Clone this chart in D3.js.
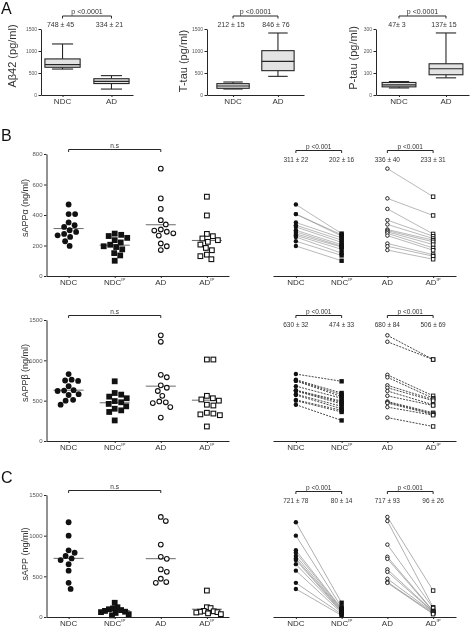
<!DOCTYPE html>
<html>
<head>
<meta charset="utf-8">
<script src="https://cdn.jsdelivr.net/npm/d3@7"></script>
<style>
  body { margin: 0; background: #fff; }
  svg { display: block; will-change: transform; }
  text { -webkit-font-smoothing: antialiased; }
</style>
</head>
<body>
<div id="fig"></div>
<script>
// ---- data ----
// panel A : box plots, [min, q1, median, q3, max]
const boxCats = ["NDC", "AD"];
const abeta42Box = [[590, 630, 690, 820, 1160], [135, 260, 310, 370, 440]];
const abeta42Text = ["748 ± 45", "334 ± 21"];
const ttauBox = [[136, 152, 205, 258, 295], [424, 553, 765, 1008, 1409]];
const ttauText = ["212 ± 15", "846 ± 76"];
const ptauBox = [[32, 37, 46, 57, 61], [78, 92, 119, 142, 282]];
const ptauText = ["47± 3", "137± 15"];
const ticks1500 = [0, 500, 1000, 1500];
const ticks800 = [0, 200, 400, 600, 800];
const ticks300 = [0, 100, 200, 300];

// panels B, C : paired samples (index i of NDC goes with index i of NDC^IP)
const scatterCats = ["NDC", "NDC^IP", "AD", "AD^IP"];

const sappaNDC = [469, 406, 406, 351, 333, 322, 300, 289, 276, 267, 256, 228, 197];
const sappaNDCip = [278, 270, 262, 250, 235, 220, 205, 195, 190, 175, 150, 135, 100];
const sappaAD = [704, 509, 440, 366, 338, 305, 298, 290, 280, 265, 213, 195, 170];
const sappaADip = [520, 397, 276, 261, 246, 235, 224, 206, 184, 169, 140, 130, 110];
const sappaMeans = [311, 202, 336, 233];
const sappaText = ["311 ± 22", "202 ± 16", "336 ± 40", "233 ± 31"];

const sappbNDC = [830, 760, 750, 745, 680, 630, 625, 620, 580, 570, 510, 500, 450];
const sappbNDCip = [740, 595, 575, 550, 530, 495, 480, 460, 430, 400, 380, 360, 255];
const sappbAD = [1310, 1230, 820, 790, 690, 660, 620, 560, 490, 480, 470, 420, 290];
const sappbADip = [1010, 1010, 560, 530, 515, 500, 450, 440, 350, 340, 330, 320, 180];
const sappbMeans = [630, 474, 680, 506];
const sappbText = ["630 ± 32", "474 ± 33", "680 ± 84", "506 ± 69"];

const sappNDC = [1165, 1000, 820, 790, 750, 720, 700, 650, 570, 420, 345];
const sappNDCip = [175, 120, 105, 95, 85, 75, 65, 60, 50, 35, 20];
const sappAD = [1230, 1180, 890, 740, 715, 585, 555, 470, 430, 420];
const sappADip = [325, 120, 110, 75, 70, 65, 60, 55, 45, 35];
const sappMeans = [721, 80, 717, 96];
const sappText = ["721 ± 78", "80 ± 14", "717 ± 93", "96 ± 26"];

// ---- drawing ----
const W = 474, H = 627;
const FONT = '"Liberation Sans", Arial, Helvetica, sans-serif';
const ink = "#262626";

const svg = d3.select("#fig").append("svg")
    .attr("width", W).attr("height", H)
    .attr("font-family", FONT);

// panel letters
[["A", 1, 14], ["B", 1, 141], ["C", 1, 483]].forEach(([t, x, y]) => {
    svg.append("text").attr("x", x).attr("y", y)
        .attr("font-size", 16).attr("fill", "#111").text(t);
});

function yAxis(g, y, x, ticks, fs) {
    const ax = g.append("g")
        .attr("transform", `translate(${x},0)`)
        .call(d3.axisLeft(y).tickValues(ticks).tickFormat(d3.format("d"))
            .tickSize(2.5).tickSizeOuter(0).tickPadding(1.5))
        .attr("font-family", FONT).attr("font-size", fs);
    ax.select(".domain").attr("stroke", ink).attr("stroke-width", 1);
    ax.selectAll(".tick line").attr("stroke", ink);
    ax.selectAll(".tick text").attr("fill", "#555");
}

function xAxis(g, x, y0, fs, lblDy) {
    const ax = g.append("g")
        .attr("transform", `translate(0,${y0})`)
        .call(d3.axisBottom(x).tickSize(2).tickSizeOuter(0).tickFormat(""));
    ax.select(".domain").attr("stroke", ink).attr("stroke-width", 1);
    ax.selectAll(".tick line").attr("stroke", ink);
    x.domain().forEach(c => {
        const [base, sup] = c.split("^");
        const t = g.append("text")
            .attr("x", x(c)).attr("y", y0 + lblDy)
            .attr("text-anchor", "middle")
            .attr("font-size", fs).attr("fill", "#333");
        t.append("tspan").text(base);
        if (sup) t.append("tspan").attr("font-size", fs * 0.55).attr("dy", -fs * 0.45).text(sup);
    });
}

function yLabel(g, txt, x, y, fs) {
    g.append("text")
        .attr("transform", `translate(${x},${y}) rotate(-90)`)
        .attr("text-anchor", "middle").attr("dominant-baseline", "central")
        .attr("font-size", fs).attr("fill", "#333")
        .text(txt);
}

function bracket(g, xa, xb, y, label, fs) {
    g.append("path")
        .attr("d", `M${xa},${y + 2.5}V${y}H${xb}V${y + 2.5}`)
        .attr("fill", "none").attr("stroke", ink).attr("stroke-width", 1);
    g.append("text")
        .attr("x", (xa + xb) / 2).attr("y", y - 2)
        .attr("text-anchor", "middle").attr("font-size", fs).attr("fill", "#333")
        .text(label);
}

function marker(g, shape, filled, cx, cy, r, sw) {
    const m = shape === "circle"
        ? g.append("circle").attr("cx", cx).attr("cy", cy).attr("r", filled ? r : r - sw / 2)
        : g.append("rect").attr("x", cx - r + (filled ? 0 : sw / 2)).attr("y", cy - r + (filled ? 0 : sw / 2))
            .attr("width", filled ? 2 * r : 2 * r - sw).attr("height", filled ? 2 * r : 2 * r - sw);
    if (filled) m.attr("fill", "#111");
    else m.attr("fill", "#fff").attr("stroke", "#111").attr("stroke-width", sw);
}

const shapes = ["circle", "rect", "circle", "rect"];
const filledOf = [true, true, false, false];

// simple beeswarm: horizontal offsets so markers do not overlap,
// squeezed back into +-maxW when a group gets too wide
function swarm(values, y, r, maxW) {
    const order = d3.range(values.length).sort((a, b) => values[b] - values[a]);
    const placed = [];
    const off = new Array(values.length);
    const minD = 2 * r + 0.5;
    order.forEach(i => {
        const yi = y(values[i]);
        for (let k = 0; k < 400; k++) {
            const dx = k === 0 ? 0 : (k % 2 ? 1 : -1) * Math.ceil(k / 2) * 0.5;
            if (placed.every(p => (p.x - dx) ** 2 + (p.y - yi) ** 2 >= minD * minD)) {
                placed.push({ x: dx, y: yi });
                off[i] = dx;
                break;
            }
        }
    });
    const widest = d3.max(off, Math.abs);
    return widest > maxW ? off.map(d => d * maxW / widest) : off;
}

// ---- panel A ----
function boxPanel(o) {
    const g = svg.append("g");
    const x = d3.scalePoint().domain(boxCats).range([o.x0, o.x1]).padding(o.pad);
    const y = d3.scaleLinear().domain([0, o.max]).range([95, 29]);
    const bw = x.step() * 0.72;
    o.boxes.forEach((b, i) => {
        const cx = x(boxCats[i]);
        const line = (x1, y1, x2, y2) => g.append("line")
            .attr("x1", x1).attr("y1", y1).attr("x2", x2).attr("y2", y2)
            .attr("stroke", ink).attr("stroke-width", 1.1);
        line(cx, y(b[0]), cx, y(b[1]));
        line(cx, y(b[3]), cx, y(b[4]));
        line(cx - bw * 0.3, y(b[0]), cx + bw * 0.3, y(b[0]));
        line(cx - bw * 0.3, y(b[4]), cx + bw * 0.3, y(b[4]));
        g.append("rect")
            .attr("x", cx - bw / 2).attr("y", y(b[3]))
            .attr("width", bw).attr("height", y(b[1]) - y(b[3]))
            .attr("fill", "#e3e3e3").attr("stroke", ink).attr("stroke-width", 1.1);
        line(cx - bw / 2, y(b[2]), cx + bw / 2, y(b[2]));
        g.append("text")
            .attr("x", cx - 2).attr("y", 27)
            .attr("text-anchor", "middle").attr("font-size", 7).attr("fill", "#333")
            .text(o.text[i]);
    });
    yAxis(g, y, o.x0, o.ticks, 5);
    xAxis(g, x, 95, 8, 9);
    yLabel(g, o.label, o.lx, o.ly, 11);
    bracket(g, x("NDC"), x("AD"), 16, "p <0.0001", 7);
}

boxPanel({ x0: 41, x1: 133, pad: 0.44, max: 1500, ticks: ticks1500, boxes: abeta42Box,
    text: abeta42Text, label: "Aβ42 (pg/ml)", lx: 12, ly: 56 });
boxPanel({ x0: 207, x1: 304, pad: 0.58, max: 1500, ticks: ticks1500, boxes: ttauBox,
    text: ttauText, label: "T-tau (pg/ml)", lx: 183, ly: 61 });
boxPanel({ x0: 376, x1: 469, pad: 0.49, max: 300, ticks: ticks300, boxes: ptauBox,
    text: ptauText, label: "P-tau (pg/ml)", lx: 353, ly: 58 });

// ---- panels B, C : left scatter ----
function scatterPanel(o) {
    const g = svg.append("g");
    const x = d3.scalePoint().domain(scatterCats).range([46.5, 229]).padding(0.48);
    const y = d3.scaleLinear().domain([0, o.max]).range([o.yb, o.yt]);
    o.series.forEach((vals, i) => {
        const c = scatterCats[i];
        g.append("line")
            .attr("x1", x(c) - 15).attr("x2", x(c) + 15)
            .attr("y1", y(o.means[i])).attr("y2", y(o.means[i]))
            .attr("stroke", "#6a6a6a").attr("stroke-width", 1);
        const off = swarm(vals, y, 2.9, 14);
        vals.forEach((v, j) => marker(g, shapes[i], filledOf[i], x(c) + off[j], y(v), 2.9, 1.1));
    });
    yAxis(g, y, 46.5, o.ticks, 6);
    xAxis(g, x, o.yb, 8, 8.5);
    yLabel(g, o.label, 25, o.ly, 9);
    bracket(g, x("NDC"), x("AD"), o.yt - 4.5, "n.s", 6.5);
}

// ---- panels B, C : right paired ----
function pairedPanel(o) {
    const g = svg.append("g");
    const x = d3.scalePoint().domain(scatterCats).range([273, 456]).padding(0.5);
    const y = d3.scaleLinear().domain([0, o.max]).range([o.yb, o.yt]);
    [[0, 1], [2, 3]].forEach(([a, b]) => {
        o.series[a].forEach((v, j) => {
            g.append("line")
                .attr("x1", x(scatterCats[a])).attr("y1", y(v))
                .attr("x2", x(scatterCats[b])).attr("y2", y(o.series[b][j]))
                .attr("stroke", o.lineColor).attr("stroke-width", o.lineWidth)
                .attr("stroke-dasharray", o.dash);
        });
    });
    o.series.forEach((vals, i) => {
        vals.forEach(v => marker(g, shapes[i], filledOf[i], x(scatterCats[i]), y(v), 2.2, 0.9));
        g.append("text")
            .attr("x", x(scatterCats[i])).attr("y", o.textY)
            .attr("text-anchor", "middle").attr("font-size", 6.5).attr("fill", "#333")
            .text(o.text[i]);
    });
    xAxis(g, x, o.yb, 8, 8.5);
    bracket(g, x("NDC"), x("NDC^IP"), o.textY - 11.5, "p <0.001", 6.5);
    bracket(g, x("AD"), x("AD^IP"), o.textY - 11.5, "p <0.001", 6.5);
}

scatterPanel({ max: 800, yb: 276, yt: 154, ticks: ticks800, label: "sAPPα (ng/ml)", ly: 208,
    series: [sappaNDC, sappaNDCip, sappaAD, sappaADip], means: sappaMeans });
pairedPanel({ max: 800, yb: 276, yt: 154, textY: 162, text: sappaText,
    series: [sappaNDC, sappaNDCip, sappaAD, sappaADip],
    lineColor: "#8a8a8a", lineWidth: 0.6, dash: null });

scatterPanel({ max: 1500, yb: 441, yt: 320, ticks: ticks1500, label: "sAPPβ (ng/ml)", ly: 373,
    series: [sappbNDC, sappbNDCip, sappbAD, sappbADip], means: sappbMeans });
pairedPanel({ max: 1500, yb: 441, yt: 320, textY: 327, text: sappbText,
    series: [sappbNDC, sappbNDCip, sappbAD, sappbADip],
    lineColor: "#333", lineWidth: 0.9, dash: "2,1.2" });

scatterPanel({ max: 1500, yb: 617, yt: 495, ticks: ticks1500, label: "sAPP (ng/ml)", ly: 554,
    series: [sappNDC, sappNDCip, sappAD, sappADip], means: sappMeans });
pairedPanel({ max: 1500, yb: 617, yt: 495, textY: 503, text: sappText,
    series: [sappNDC, sappNDCip, sappAD, sappADip],
    lineColor: "#7a7a7a", lineWidth: 0.6, dash: null });
</script>
</body>
</html>
